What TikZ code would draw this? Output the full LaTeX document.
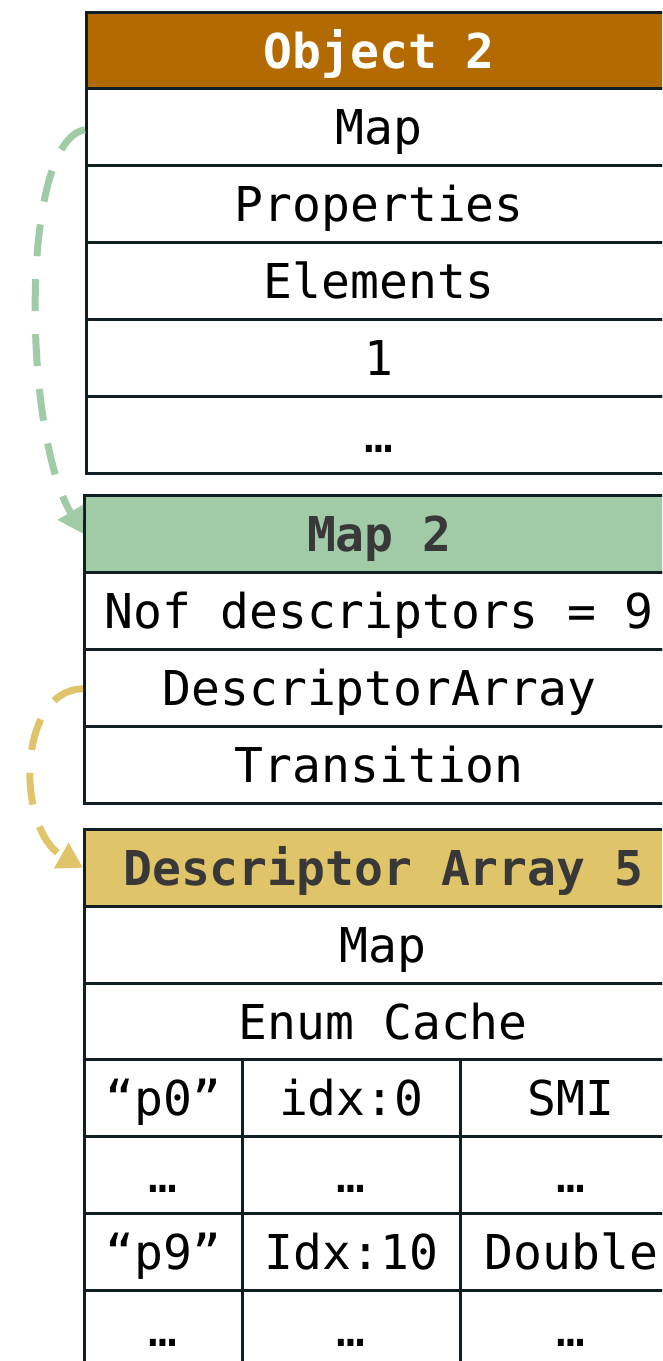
\documentclass[tikz,border=0pt]{standalone}
\usepackage{fontspec}
\setmainfont{DejaVu Sans Mono}
\usetikzlibrary{arrows.meta}
\definecolor{objhead}{HTML}{B36A00}
\definecolor{maphead}{HTML}{A1CBA6}
\definecolor{deschead}{HTML}{E0C46A}
\definecolor{headtxt}{HTML}{383838}
\definecolor{edge}{HTML}{111E24}
\tikzset{
  x=1pt, y=-1pt,
  cell/.style={draw=edge, line width=2.6pt, inner sep=0pt, anchor=north west,
    minimum height=77pt, text height=41pt, text depth=6pt,
    font=\fontsize{48}{56}\selectfont, text=black, fill=white},
  headcell/.style={cell, font=\fontsize{48}{56}\selectfont\bfseries},
  link/.style={line width=7pt, dash pattern=on 32pt off 23pt,
    -{Triangle[length=25pt,width=28pt]}},
}
\begin{document}
\begin{tikzpicture}
\useasboundingbox (0,0) rectangle (662,1361);
\clip (0,0) rectangle (662,1361);
% Object 2
\node[headcell, fill=objhead, text=white, minimum width=586pt] (o2h) at (85,11) {Object 2};
\node[cell, minimum width=586pt] (o2map) at (85,87) {Map};
\node[cell, minimum width=586pt] (o2prop) at (85,164) {Properties};
\node[cell, minimum width=586pt] (o2el) at (85,241) {Elements};
\node[cell, minimum width=586pt] (o2one) at (85,318) {1};
\node[cell, minimum width=586pt] (o2dots) at (85,395) {…};
% Map 2
\node[headcell, fill=maphead, text=headtxt, minimum width=590pt] (m2h) at (83,494) {Map 2};
\node[cell, minimum width=590pt] (m2nof) at (83,571) {Nof descriptors = 9};
\node[cell, minimum width=590pt] (m2da) at (83,648) {DescriptorArray};
\node[cell, minimum width=590pt] (m2tr) at (83,725) {Transition};
% Descriptor Array 5
\node[headcell, fill=deschead, text=headtxt, minimum width=598pt] (dah) at (83,828) {Descriptor Array 5};
\node[cell, minimum width=598pt] (damap) at (83,905) {Map};
\node[cell, minimum width=598pt] (daenum) at (83,982) {Enum Cache};
\node[cell, minimum width=158pt] (r1a) at (83,1058) {“p0”};
\node[cell, minimum width=218pt] (r1b) at (241,1058) {idx:0};
\node[cell, minimum width=222pt] (r1c) at (459,1058) {SMI};
\node[cell, minimum width=158pt] (r2a) at (83,1135) {…};
\node[cell, minimum width=218pt] (r2b) at (241,1135) {…};
\node[cell, minimum width=222pt] (r2c) at (459,1135) {…};
\node[cell, minimum width=158pt] (r3a) at (83,1212) {“p9”};
\node[cell, minimum width=218pt] (r3b) at (241,1212) {Idx:10};
\node[cell, minimum width=222pt] (r3c) at (459,1212) {Double};
\node[cell, minimum width=158pt] (r4a) at (83,1289) {…};
\node[cell, minimum width=218pt] (r4b) at (241,1289) {…};
\node[cell, minimum width=222pt] (r4c) at (459,1289) {…};
% links
\draw[link, draw=maphead] ([yshift=-3pt]o2map.west) .. controls (20,140) and (22,430) .. (m2h.west);
\draw[link, draw=deschead] ([yshift=-1pt]m2da.west) .. controls (16,690) and (16,830) .. (dah.west);
\end{tikzpicture}
\end{document}
